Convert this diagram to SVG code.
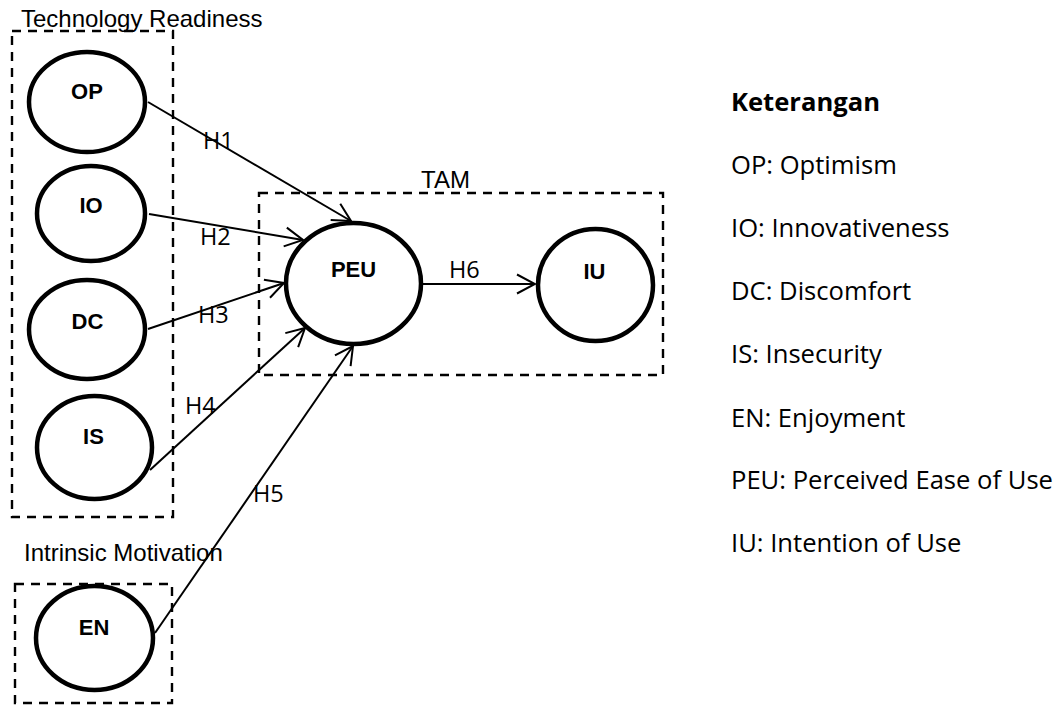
<svg xmlns="http://www.w3.org/2000/svg" width="1058" height="705" viewBox="0 0 1058 705">
  <style>
    .grp { fill: none; stroke: #000; stroke-width: 2.4; stroke-dasharray: 9 7; }
    .node { fill: #fff; stroke: #000; stroke-width: 4.5; }
    .nlabel { font-family: "Liberation Sans", Arial, sans-serif; font-weight: bold; font-size: 22px; text-anchor: middle; fill: #000; }
    .gtitle { font-family: "Liberation Sans", Arial, sans-serif; font-size: 24px; fill: #000; }
    .edge { fill: none; stroke: #000; stroke-width: 2; marker-end: url(#arrow); }
    .elabel { font-family: "Open Sans", "Liberation Sans", sans-serif; font-size: 23.5px; fill: #000; }
    .legend { font-family: "Open Sans", "Liberation Sans", sans-serif; font-size: 25.6px; fill: #000; }
  </style>
  <defs>
    <marker id="arrow" viewBox="-20 -12 22 24" refX="0" refY="0" markerWidth="22" markerHeight="24" markerUnits="userSpaceOnUse" orient="auto">
      <path d="M-18,-9.5 L0,0 L-18,9.5" fill="none" stroke="#000" stroke-width="2"/>
    </marker>
  </defs>
  <rect width="1058" height="705" fill="#fff"/>

  <!-- group frames -->
  <g id="tech-readiness">
    <rect class="grp" x="12" y="31" width="161" height="486"/>
    <text class="gtitle" x="21" y="27">Technology Readiness</text>
  </g>
  <g id="intrinsic-motivation">
    <rect class="grp" x="15" y="584" width="157" height="119"/>
    <text class="gtitle" x="24" y="561">Intrinsic Motivation</text>
  </g>
  <g id="tam">
    <rect class="grp" x="259" y="193" width="404" height="182"/>
    <text class="gtitle" x="421" y="188" font-size="23">TAM</text>
  </g>

  <!-- connectors -->
  <g id="connectors">
    <line class="edge" x1="148" y1="102" x2="351" y2="221"/>
    <line class="edge" x1="149" y1="214" x2="303" y2="240"/>
    <line class="edge" x1="148" y1="329" x2="284" y2="283"/>
    <line class="edge" x1="150" y1="470" x2="305" y2="328"/>
    <line class="edge" x1="155" y1="633" x2="353" y2="346"/>
    <line class="edge" x1="423" y1="284" x2="535" y2="284"/>
    <text class="elabel" x="203" y="149">H1</text>
    <text class="elabel" x="200" y="245">H2</text>
    <text class="elabel" x="198" y="323">H3</text>
    <text class="elabel" x="185" y="414">H4</text>
    <text class="elabel" x="253" y="502">H5</text>
    <text class="elabel" x="449" y="278">H6</text>
  </g>

  <!-- nodes -->
  <g id="OP">
    <ellipse class="node" cx="87" cy="102" rx="58" ry="50"/>
    <text class="nlabel" x="87" y="99">OP</text>
  </g>
  <g id="IO">
    <ellipse class="node" cx="91" cy="213.5" rx="54" ry="47.5"/>
    <text class="nlabel" x="91" y="213">IO</text>
  </g>
  <g id="DC">
    <ellipse class="node" cx="87" cy="329.5" rx="58" ry="49.5"/>
    <text class="nlabel" x="87.5" y="329">DC</text>
  </g>
  <g id="IS">
    <ellipse class="node" cx="94.5" cy="447.5" rx="57.5" ry="51.5"/>
    <text class="nlabel" x="93.5" y="444">IS</text>
  </g>
  <g id="EN">
    <ellipse class="node" cx="94.5" cy="638" rx="58.5" ry="52"/>
    <text class="nlabel" x="94" y="635">EN</text>
  </g>
  <g id="PEU">
    <ellipse class="node" cx="353.5" cy="283.5" rx="67.5" ry="60.5"/>
    <text class="nlabel" x="353.5" y="277">PEU</text>
  </g>
  <g id="IU">
    <ellipse class="node" cx="595.5" cy="285" rx="57.5" ry="56"/>
    <text class="nlabel" x="594.5" y="279">IU</text>
  </g>

  <!-- legend -->
  <g id="legend">
    <text class="legend" x="731" y="111" font-weight="bold">Keterangan</text>
    <text class="legend" x="731" y="174">OP: Optimism</text>
    <text class="legend" x="731" y="237">IO: Innovativeness</text>
    <text class="legend" x="731" y="300">DC: Discomfort</text>
    <text class="legend" x="731" y="363">IS: Insecurity</text>
    <text class="legend" x="731" y="427">EN: Enjoyment</text>
    <text class="legend" x="731" y="489">PEU: Perceived Ease of Use</text>
    <text class="legend" x="731" y="552">IU: Intention of Use</text>
  </g>
</svg>
